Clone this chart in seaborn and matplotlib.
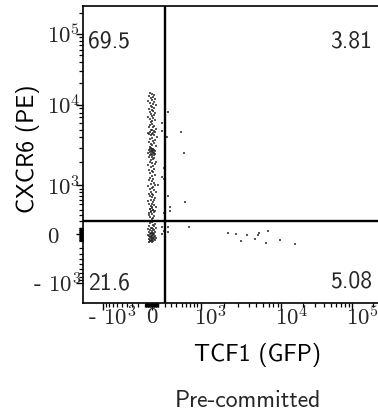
import numpy as np
import pandas as pd
import matplotlib
matplotlib.use("Agg")
import matplotlib.pyplot as plt
import seaborn as sns
from matplotlib.ticker import FixedLocator, FixedFormatter
from matplotlib.transforms import ScaledTranslation

# ---------------- data (x = TCF1 (GFP), y = CXCR6 (PE)) ----------------
top_left = [
    (-30, 14800), (0, 14200), (30, 13850), (-45, 13300), (15, 12950), (-15, 12500),
    (45, 12100), (0, 11700), (-60, 11350), (30, 11000), (-30, 10650), (15, 10300),
    (60, 10000), (-15, 9700), (0, 9450),
    (30, 9200), (-45, 8940), (0, 8700), (15, 8460), (-30, 8230), (45, 8000),
    (-15, 7800), (30, 7575), (0, 7370), (-60, 7170), (15, 6980), (-30, 6790),
    (45, 6600), (0, 6420), (-15, 6240),
    (150, 6070), (0, 5900), (-30, 5740), (30, 5580), (-45, 5430), (15, 5300),
    (60, 5140), (-15, 5000), (0, 4880), (30, 4840), (150, 4750), (-30, 4700),
    (45, 4620), (-60, 4580), (15, 4480), (0, 4450), (-45, 4360), (30, 4330),
    (-15, 4230), (75, 4110),
    (0, 3990), (-30, 3880), (45, 3780), (15, 3670), (-45, 3570), (30, 3470),
    (-15, 3370), (0, 3280), (60, 3190), (-30, 3100),
    (-15, 2960), (0, 2930), (15, 2900), (-30, 2870), (30, 2850), (-45, 2820),
    (0, 2790), (45, 2770), (-15, 2740), (15, 2700), (-30, 2670), (0, 2640),
    (30, 2620), (-60, 2590), (15, 2560), (-15, 2530), (45, 2500), (0, 2475),
    (-30, 2450), (30, 2420),
    (0, 2340), (-45, 2280), (30, 2215), (15, 2150), (-15, 2090), (60, 2030),
    (-30, 1975), (0, 1920), (45, 1865), (-60, 1815), (15, 1765), (-15, 1715),
    (180, 1665), (30, 1620), (-45, 1570), (0, 1525), (15, 1480), (-30, 1435),
    (45, 1390), (0, 1350),
    (150, 1310), (-30, 1270), (180, 1235), (15, 1200), (-45, 1165), (0, 1130),
    (30, 1095), (-15, 1060), (45, 1030), (90, 1000), (-60, 970), (15, 935),
    (0, 905), (-30, 875), (30, 845), (-15, 815), (60, 790), (0, 760),
    (-45, 735), (15, 710),
    (-30, 685), (0, 660), (45, 635), (-15, 610), (30, 588), (-60, 565),
    (15, 545), (0, 520), (-45, 502), (30, 480), (-15, 462), (60, 445),
    (0, 425), (-30, 405), (15, 385), (45, 365), (-15, 350), (180, 330),
    (0, 313), (-45, 295), (30, 280), (-30, 262), (15, 245), (0, 228), (-15, 210),
    (0, 440), (-30, 415), (15, 395), (-15, 370), (30, 355), (-45, 340),
]
top_right = [
    (245, 8230), (480, 4600), (228, 4000), (545, 2550),
    (245, 685), (565, 545), (280, 445), (280, 365),
]
bottom_right = [
    (2270, 15), (2850, 0), (3280, -104), (3880, -15), (4730, -74), (5280, -15),
    (5430, 15), (6980, 44), (6600, -133), (9700, -89), (15500, -149),
    (660, 104), (245, 104), (245, 30),
]
bottom_left = [
    (0, 180), (-30, 165), (45, 150), (15, 140), (-45, 130), (30, 118),
    (150, 110), (-15, 100), (60, 95), (0, 89), (-60, 80), (15, 74),
    (-30, 65), (30, 59), (180, 50), (0, 44), (-45, 40), (45, 30),
    (-15, 25), (15, 20), (0, 15), (-30, 10), (150, 5), (30, 0),
    (-60, -5), (0, -10), (15, -15), (-45, -20), (45, -25), (-15, -30),
    (0, -35), (30, -40), (-30, -45), (60, -50), (-15, -55), (15, -59),
    (0, -65), (-45, -70), (30, -74), (-30, -80), (0, -85), (45, -89),
    (-15, -95), (15, -100), (-30, -104), (0, -110), (-45, -118),
]

gate_x = 200
gate_y = 200
quadrant_labels = ["69.5", "3.81", "21.6", "5.08"]
x_label = "TCF1 (GFP)"
y_label = "CXCR6 (PE)"
title = "Pre-committed"
major_ticks = [-1000, 0, 1000, 10000, 100000]
major_tick_labels = ["- $10^3$", "$0$", "$10^3$", "$10^4$", "$10^5$"]
minor_ticks = ([-v for v in range(2000, 10000, 1000)] + [-v for v in range(100, 1000, 100)]
               + [-v for v in range(10, 100, 10)] + list(range(10, 100, 10))
               + list(range(100, 1000, 100)) + list(range(2000, 10000, 1000))
               + list(range(20000, 100000, 10000)) + [200000])
axis_limits = (-1800, 250000)

# ---------------- biexponential-like display scale ----------------
COFACTOR = 500.0
ANCHOR_VALUES = np.array([-1e6, -1e5, -1e4, -1e3, 0, 1e3, 1e4, 1e5, 1e6])
ANCHOR_POS = np.array([-271, -201, -130, -49, 0, 49, 130, 201, 271], dtype=float)
ANCHOR_U = np.arcsinh(ANCHOR_VALUES / COFACTOR)


def fwd(v):
    return np.interp(np.arcsinh(np.asarray(v, dtype=float) / COFACTOR), ANCHOR_U, ANCHOR_POS)


def inv(p):
    return COFACTOR * np.sinh(np.interp(np.asarray(p, dtype=float), ANCHOR_POS, ANCHOR_U))


rows = []
for name, pts in [("tl", top_left), ("tr", top_right), ("br", bottom_right), ("bl", bottom_left)]:
    for x, y in pts:
        rows.append({"TCF1": x, "CXCR6": y, "q": name})
df = pd.DataFrame(rows)

# ---------------- style ----------------
sns.set_style("ticks")
plt.rcParams["font.family"] = ["cmss10", "DejaVu Sans"]
plt.rcParams["mathtext.fontset"] = "cm"
plt.rcParams["axes.unicode_minus"] = False
plt.rcParams["axes.formatter.use_mathtext"] = True
plt.rcParams["axes.linewidth"] = 1.2

fig = plt.figure(figsize=(3.78, 4.12), dpi=100)
ax = fig.add_axes([83 / 378, 109 / 412, 297 / 378, 297 / 412])

sns.scatterplot(data=df, x="TCF1", y="CXCR6", color="#222222", s=1.0, marker="s",
                linewidth=0, alpha=0.75, ax=ax, legend=False)

ax.set_xscale("function", functions=(fwd, inv))
ax.set_yscale("function", functions=(fwd, inv))
ax.set_xlim(*axis_limits)
ax.set_ylim(*axis_limits)

ax.axvline(gate_x, color="black", lw=1.7)
ax.axhline(gate_y, color="black", lw=1.7)

for axis in (ax.xaxis, ax.yaxis):
    axis.set_major_locator(FixedLocator(major_ticks))
    axis.set_major_formatter(FixedFormatter(major_tick_labels))
    axis.set_minor_locator(FixedLocator(minor_ticks))
    axis.set_minor_formatter(FixedFormatter([]))

ax.tick_params(which="major", direction="out", length=5, width=1.0, labelsize=16.5, color="black")
ax.tick_params(which="minor", direction="out", length=3, width=0.9, color="black")
ax.tick_params(axis="x", which="major", pad=-2.5)
ax.tick_params(axis="y", which="major", pad=20.9)
for s in ax.spines.values():
    s.set_color("black")

ax.set_xlabel(x_label, fontsize=17, color="black")
ax.set_ylabel(y_label, fontsize=17, color="black")
ax.xaxis.set_label_coords(0.589, -0.135)
ax.yaxis.set_label_coords(-0.145, 0.519)

fs = 17
ax.text(5 / 297, (303 - 47) / 297, quadrant_labels[0], transform=ax.transAxes, ha="left", va="baseline", fontsize=fs)
ax.text((372 - 83) / 297, (303 - 47) / 297, quadrant_labels[1], transform=ax.transAxes, ha="right", va="baseline", fontsize=fs)
ax.text(5 / 297, (303 - 290) / 297, quadrant_labels[2], transform=ax.transAxes, ha="left", va="baseline", fontsize=fs)
ax.text((372 - 83) / 297, (303 - 288) / 297, quadrant_labels[3], transform=ax.transAxes, ha="right", va="baseline", fontsize=fs)

fig.text(248 / 378, 5 / 412, title, ha="center", va="baseline", fontsize=17)

fig.canvas.draw()
px = 0.72  # points per pixel at dpi 100
x_dx = [-15, -6, -7, -6, -6]
for lab, dx in zip(ax.get_xticklabels(), x_dx):
    lab.set_horizontalalignment("left")
    lab.set_transform(lab.get_transform() + ScaledTranslation(dx * px / 72, 0, fig.dpi_scale_trans))
y_dx = [-14, 0, 0, 0, 0]
for lab, dx in zip(ax.get_yticklabels(), y_dx):
    lab.set_horizontalalignment("left")
    lab.set_transform(lab.get_transform() + ScaledTranslation(dx * px / 72, 0, fig.dpi_scale_trans))

fig.savefig("out.png", dpi=100)
